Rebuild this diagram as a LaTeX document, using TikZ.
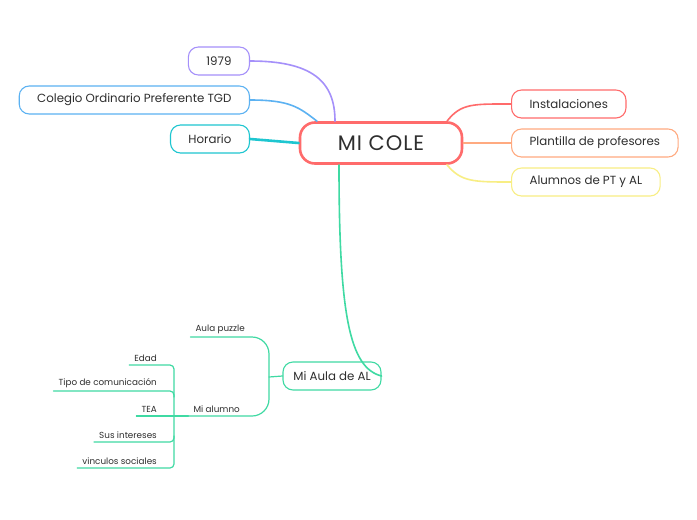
\documentclass[tikz,border=0pt]{standalone}
\usepackage{fontspec}
\setmainfont{Poppins}
\definecolor{ink}{HTML}{2E2E2E}
\definecolor{cred}{HTML}{FF6B6B}
\definecolor{corange}{HTML}{FFAA80}
\definecolor{cyellow}{HTML}{F8EE84}
\definecolor{cpurple}{HTML}{A590FA}
\definecolor{cblue}{HTML}{5CB2F2}
\definecolor{ccyan}{HTML}{1EC6D0}
\definecolor{cgreen}{HTML}{3FDAA3}
\begin{document}
\begin{tikzpicture}[x=1pt,y=-1pt,line cap=round,line join=round,
  topic/.style={draw,rounded corners=10,line width=1.1pt,minimum height=28,
    inner xsep=18,text=ink,font=\fontsize{11.8}{14}\selectfont},
  leaf/.style={inner xsep=5,inner ysep=3,text=ink,font=\fontsize{8.8}{10}\selectfont},
  branch/.style={line width=1.2pt,draw=cgreen}]
  \useasboundingbox[fill=white] (0,0) rectangle (697,520);
  % central topic
  \node[topic,draw=cred,line width=2.6pt,rounded corners=15,minimum width=162,
    minimum height=41,font=\fontsize{21}{24}\selectfont] (cole) at (381,143) {M\kern1pt I\kern1pt\ C\kern1pt O\kern1pt L\kern1pt E};
  % left topics
  \node[topic,draw=cpurple,anchor=east] (year) at (250,61) {1979};
  \node[topic,draw=cblue,anchor=east] (colegio) at (250,100) {Colegio Ordinario Preferente TGD};
  \node[topic,draw=ccyan,anchor=east] (horario) at (250,139) {Horario};
  % right topics
  \node[topic,draw=cred,anchor=west] (inst) at (511,104) {Instalaciones};
  \node[topic,draw=corange,anchor=west] (plant) at (511,143) {Plantilla de profesores};
  \node[topic,draw=cyellow,anchor=west] (alum) at (511,182) {Alumnos de PT y AL};
  % lower topic
  \node[topic,draw=cgreen,inner xsep=7,minimum width=98] (aula) at (332,376) {Mi Aula de AL};
  \draw[cpurple,line width=1.6pt] (year.east) .. controls +(62,0) and +(0,-40) .. ([xshift=-46]cole.north);
  \draw[cblue,line width=1.6pt] (colegio.east) .. controls +(40,0) and +(-18,-14) .. ([xshift=-64]cole.north);
  \draw[ccyan,line width=2.6pt] (horario.east) -- (cole.west);
  \draw[cred,line width=1.6pt] ([xshift=66]cole.north) .. controls +(14,-18) and +(-38,0) .. (inst.west);
  \draw[corange,line width=1.6pt] (cole.east) -- (plant.west);
  \draw[cyellow,line width=1.6pt] ([xshift=66]cole.south) .. controls +(14,17) and +(-38,0) .. (alum.west);
  \draw[cgreen,line width=1.6pt] ([xshift=-42]cole.south) .. controls +(0,150) and +(-32,-8) .. (aula.east);
  % subtopics
  \node[leaf,anchor=south east] (puzzle) at (250,337) {Aula puzzle};
  \node[leaf,anchor=south east] (alumno) at (245,416) {Mi alumno};
  \coordinate (fork) at (269,377);
  \draw[branch,rounded corners=17] (puzzle.south west) -- (puzzle.south east -| fork)
    -- (alumno.south east -| fork) -- (alumno.south west);
  \draw[branch] (aula.west) -- (fork);
  \foreach \name/\txt/\yy in {edad/Edad/365,tipo/Tipo de comunicación/391,
      tea/TEA/416,intereses/Sus intereses/442,vinculos/vinculos sociales/468}{
    \node[leaf,anchor=south east] (\name) at (162,\yy) {\txt};
  }
  \coordinate (bar) at (174,416);
  \draw[branch,rounded corners=4] (edad.south west) -- (edad.south east -| bar)
    -- (vinculos.south east -| bar) -- (vinculos.south west);
  \draw[branch,rounded corners=4] (tipo.south west) -- (tipo.south east -| bar) -- +(0,6);
  \draw[branch,rounded corners=4] (intereses.south west) -- (intereses.south east -| bar) -- +(0,-6);
  \draw[branch] (tea.south west) -- (alumno.south west);
\end{tikzpicture}
\end{document}
